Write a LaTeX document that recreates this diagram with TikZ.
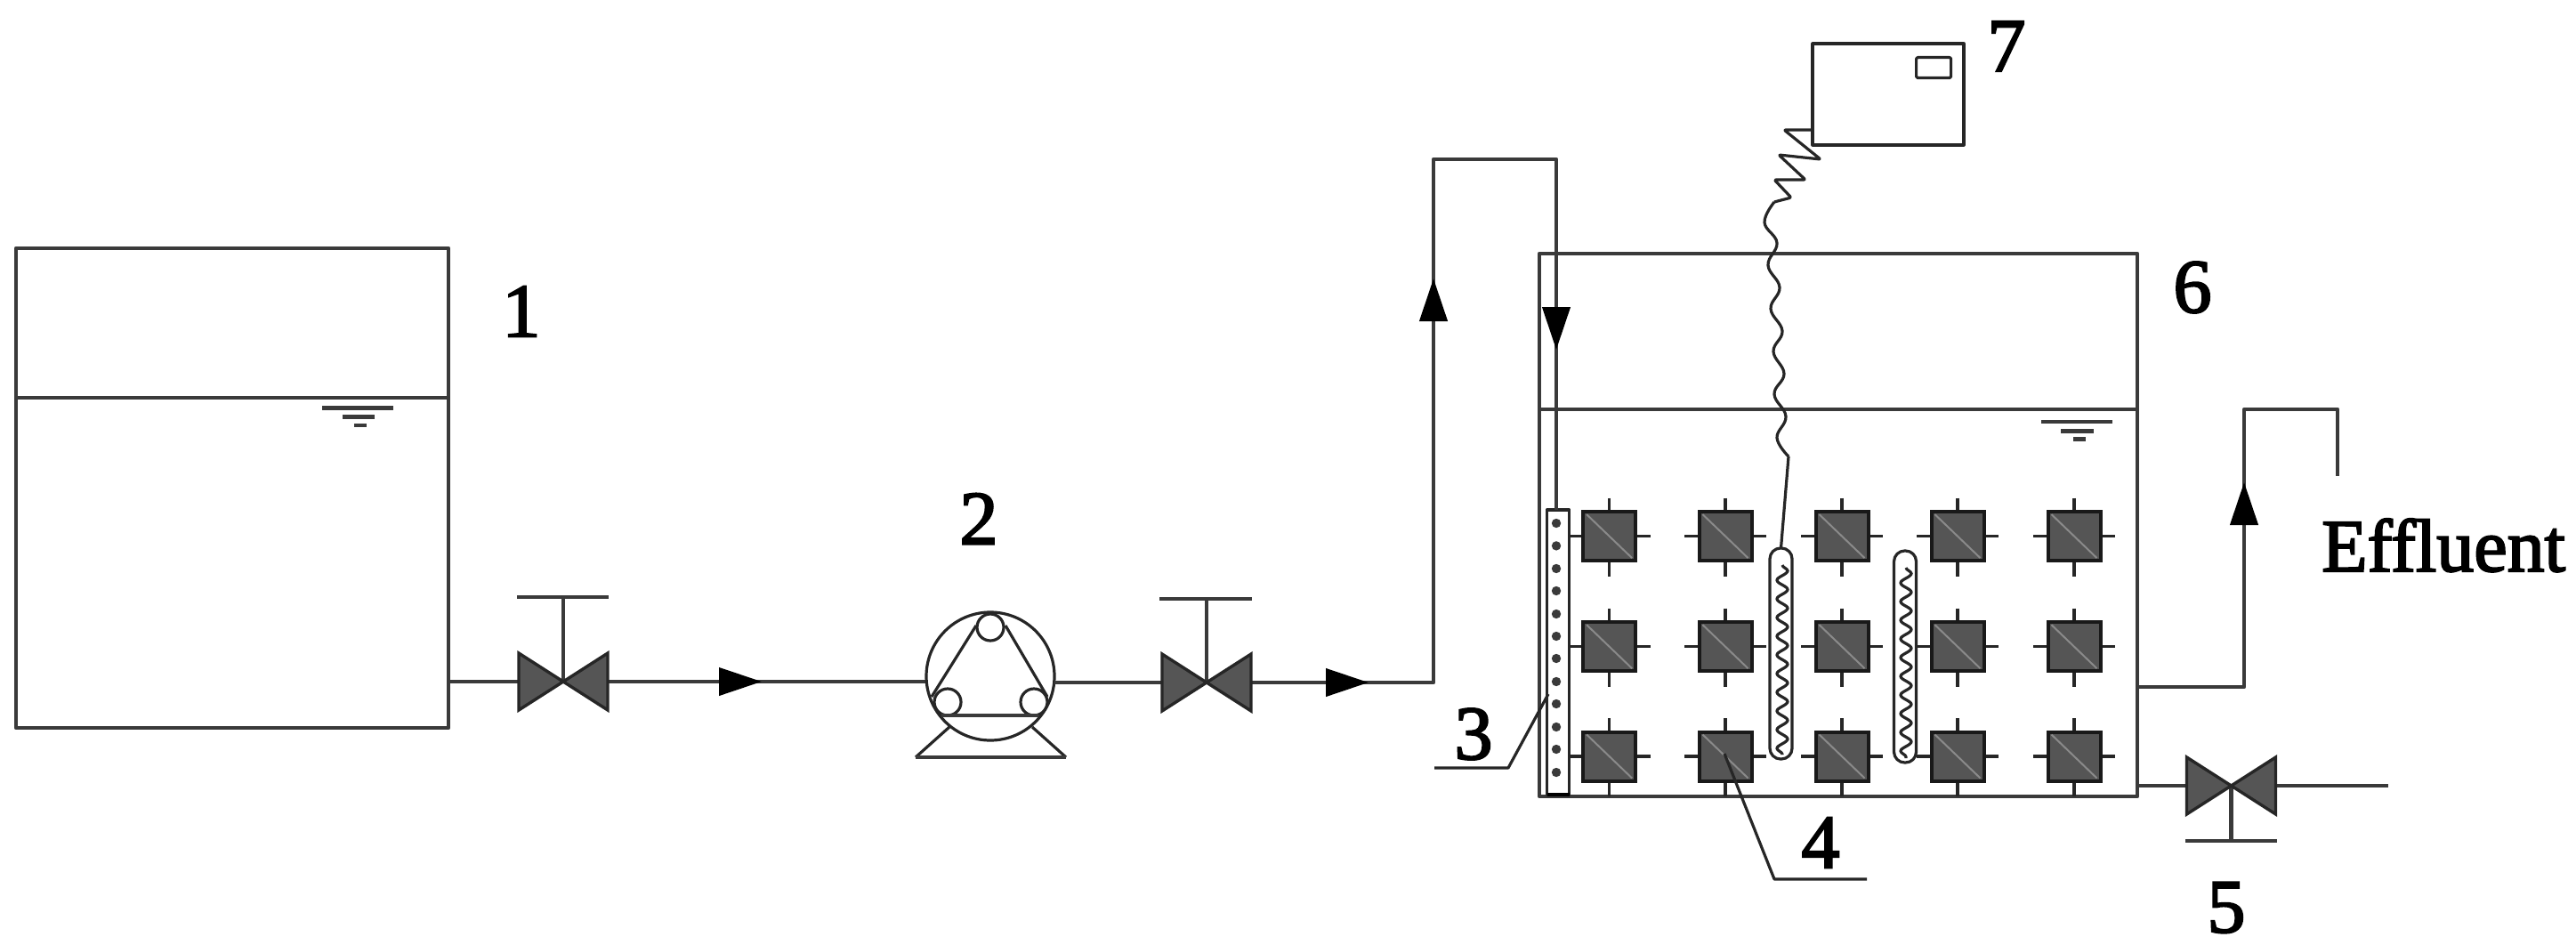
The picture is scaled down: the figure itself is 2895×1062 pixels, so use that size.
\documentclass[tikz,border=0pt]{standalone}
\usepackage{fontspec}
\setmainfont{Liberation Serif}
\newfontfamily\labelfont[FakeBold=2.5]{Liberation Serif}
\usetikzlibrary{arrows.meta,decorations.pathmorphing}
\definecolor{ink}{HTML}{3A3A3A}
\definecolor{fillgrey}{HTML}{555555}
\definecolor{diaggrey}{HTML}{8A8A8A}
\tikzset{
  x=1pt,y=-1pt,
  line/.style={draw=ink,line width=4.2pt,line join=round},
  thinline/.style={draw=black!85,line width=3.2pt,line join=round},
  tank/.style={line,rectangle,inner sep=0pt,outer sep=0pt},
  flow/.style={line,-{Triangle[length=48pt,width=31pt,color=black]}},
  num/.style={inner sep=0pt,font=\labelfont\fontsize{86}{90}\selectfont},
  valvebody/.style={fill=fillgrey,draw=black!85,line width=3.4pt,line join=miter},
  memb/.style={fill=fillgrey,draw=black!90,line width=4pt,rectangle,inner sep=0pt,outer sep=0pt,minimum width=59pt,minimum height=55pt},
  tube/.style={thinline,rounded corners=12pt,rectangle,inner sep=0pt,outer sep=0pt,minimum width=25pt,minimum height=238pt},
  coil/.style={draw=black!85,line width=3.2pt,decorate,decoration={snake,segment length=21pt,amplitude=6pt}},
  valve/.pic={
    \path[valvebody] (-50,-32) -- (50,32) -- (50,-32) -- (-50,32) -- cycle;
  },
}
\begin{document}
\begin{tikzpicture}
\useasboundingbox (0,0) rectangle (2895,1062);

% Feed tank
\node[tank,minimum width=486pt,minimum height=539pt,anchor=north west] (feed) at (18,279) {};
\coordinate (feedL) at (18,447);
\coordinate (feedR) at (504,447);
\draw[line] (feedL) -- (feedR);
\draw[line] (362,458.5) -- (442,458.5);
\draw[line] (385,468.5) -- (421,468.5);
\draw[line] (398,478) -- (412,478);
\node[num] (n1) at (586,350) {1};

% Valve 1
\coordinate (v1) at (633,766);
\coordinate (v1h) at (633,671);
\coordinate (a1) at (856,766);
\coordinate (feedout) at (504,766);
\node[inner sep=0pt] (pumpin) at (1041,766) {};
\draw[line] (feedout) -- (pumpin);
\draw[flow] (feedout) -- (a1);
\draw[line] (v1) -- (v1h);
\draw[line] (581,671) -- (684,671);
\pic at (v1) {valve};

% Pump
\node[thinline,circle,inner sep=0pt,outer sep=0pt,minimum size=144pt] (pump) at (1113,760) {};
\node[thinline,circle,inner sep=0pt,minimum size=30pt] (r1) at (1113,705) {};
\node[thinline,circle,inner sep=0pt,minimum size=30pt] (r2) at (1065,789) {};
\node[thinline,circle,inner sep=0pt,minimum size=30pt] (r3) at (1162,789) {};
\draw[thinline] (1097,703) -- (1047,783);
\draw[thinline] (1130,703) -- (1177,783);
\draw[line] (1058,804) -- (1167,804);
\draw[thinline] (1067,817) -- (1029,851);
\draw[thinline] (1160,817) -- (1198,851);
\draw[line] (1029,851) -- (1198,851);
\node[num] (n2) at (1100,583) {2};

% Valve 2
\coordinate (v2) at (1356,767);
\coordinate (a2) at (1538,767);
\coordinate (pumpout) at (1185,767);
\coordinate (riseb) at (1611,767);
\coordinate (a3) at (1611,313);
\coordinate (riset) at (1611,179);
\coordinate (downt) at (1749,179);
\coordinate (a4) at (1749,393);
\draw[line] (pumpout) -- (riseb) -- (riset) -- (downt) -- (a4);
\draw[flow] (pumpout) -- (a2);
\draw[flow] (riseb) -- (a3);
\draw[flow] (downt) -- (a4);
\draw[line] (1356,673) -- (v2);
\draw[line] (1303,673) -- (1407,673);
\pic at (v2) {valve};

% Reactor
\node[tank,minimum width=672pt,minimum height=610pt,anchor=north west] (reactor) at (1730,285) {};
\coordinate (rwL) at (1730,460);
\coordinate (rwR) at (2402,460);
\draw[line] (rwL) -- (rwR);
\draw[line] (2294,474) -- (2374,474);
\draw[line] (2316,484.5) -- (2353,484.5);
\draw[line] (2330,493.5) -- (2343.5,493.5);
\node[num] (n6) at (2464,323) {6};

% Diffuser
\node[thinline,rectangle,inner sep=0pt,outer sep=0pt,minimum width=25pt,minimum height=320pt,anchor=north west] (diff) at (1738.5,573) {};
\draw[line] (a4) -- (diff.north -| a4);
\draw[line width=4.5pt,draw=black] (diff.south west) -- (diff.south east);
\foreach \yy in {588,613.4,639,664,690,715,740,766,791,817,842,868}
  \fill[ink] (1749,\yy) circle (5.2pt);

% Membrane modules
\foreach \xx in {1808.6,1939,2070,2200,2331}{
  \foreach \yy in {602.6,726.7,850}{
    \draw[thinline] (\xx-46,\yy) -- (\xx+46,\yy) (\xx,\yy-43) -- (\xx,\yy+45);
    \node[memb] (m) at (\xx,\yy) {};
    \draw[diaggrey,line width=2pt] ([xshift=4pt,yshift=-3pt]m.north west) -- ([xshift=-4pt,yshift=3pt]m.south east);
  }
}

% Heating tubes
\node[tube,minimum height=237pt] (h1) at (2001.5,734.5) {};
\node[tube,minimum height=238pt] (h2) at (2141,738) {};
\draw[coil] (2003,635) -- (2003,848);
\draw[coil] (2142,638) -- (2142,852);

% Instrument box and lead
\node[thinline,rectangle,inner sep=0pt,outer sep=0pt,minimum width=170pt,minimum height=114pt,anchor=north west] (box) at (2037,49) {};
\node[thinline,rectangle,rounded corners=1.5pt,inner sep=0pt,minimum width=39pt,minimum height=23pt,anchor=north west] (disp) at (2152,63) {};
\draw[thinline,rounded corners=2pt] (box.west |- 0,146) -- (2005,146) -- (2046,179) -- (1999,174) -- (2029,202) -- (1994,202) -- (2013,222) -- (1994,227);
\draw[thinline] plot[smooth,tension=.7] coordinates {(1994,227) (1983,250) (1997,273) (1987,298) (2000,323) (1990,347) (2003,372) (1993,395) (2005,420) (1994,443) (2007,468) (1997,492) (2010,513)};
\draw[thinline] (2010,513) -- (h1.north);
\node[num] (n7) at (2255,52) {7};

% Effluent
\coordinate (eff0) at (2402,772);
\coordinate (eff1) at (2522,772);
\coordinate (a5) at (2522,542);
\coordinate (eff2) at (2522,460);
\coordinate (eff3) at (2627,460);
\coordinate (eff4) at (2627,535);
\draw[line] (eff0) -- (eff1) -- (eff2) -- (eff3) -- (eff4);
\draw[flow] (eff1) -- (a5);
\node[num,anchor=base west,font=\labelfont\fontsize{84}{90}\selectfont] (efftext) at (2609,642) {Effluent};

% Valve 5
\coordinate (v5) at (2507.5,883);
\coordinate (drain) at (2684,883);
\coordinate (drain0) at (2402,883);
\draw[line] (drain0) -- (drain);
\draw[line] (v5) -- (2507.5,945);
\draw[line] (2456,945) -- (2559,945);
\pic at (v5) {valve};
\node[num] (n5) at (2502,1020) {5};

% Leaders
\coordinate (l3a) at (1612,863);
\coordinate (l3b) at (1695,863);
\coordinate (l3c) at (1740,780);
\draw[thinline] (l3a) -- (l3b) -- (l3c);
\node[num] (n3) at (1656,825) {3};
\coordinate (l4a) at (1938,847);
\coordinate (l4b) at (1994,988);
\coordinate (l4c) at (2098,988);
\draw[thinline] (l4a) -- (l4b) -- (l4c);
\node[num] (n4) at (2046,947) {4};
\end{tikzpicture}
\end{document}
